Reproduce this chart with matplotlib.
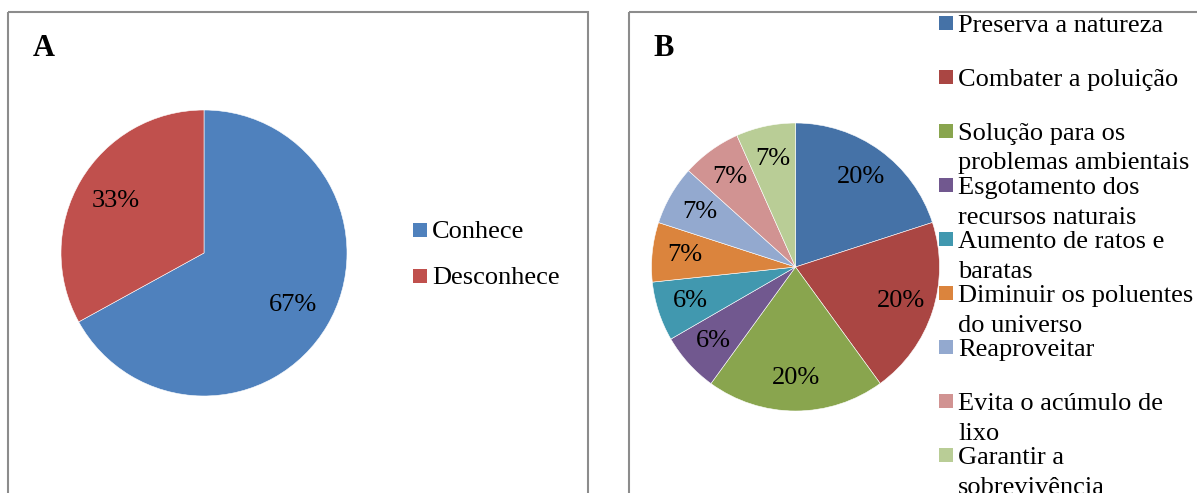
import matplotlib
matplotlib.use("Agg")
import matplotlib.pyplot as plt
from matplotlib.patches import Rectangle

plt.rcParams['font.family'] = ['Liberation Serif', 'DejaVu Serif']

# ---- data ----
cats_a = ["Conhece", "Desconhece"]
vals_a = [67, 33]
labels_a = ["67%", "33%"]

cats_b = ["Preserva a natureza", "Combater a poluição",
          "Solução para os\nproblemas ambientais", "Esgotamento dos\nrecursos naturais",
          "Aumento de ratos e\nbaratas", "Diminuir os poluentes\ndo universo",
          "Reaproveitar", "Evita o acúmulo de\nlixo", "Garantir a\nsobrevivência"]
vals_b = [20, 20, 20, 6.67, 6.67, 6.67, 6.67, 6.67, 6.67]
labels_b = ["20%", "20%", "20%", "6%", "6%", "7%", "7%", "7%", "7%"]

colors_a = ["#4F81BD", "#C0504D"]
colors_b = ["#4572A7", "#AA4643", "#89A54E", "#71588F", "#4198AF",
            "#DB843D", "#93A9CF", "#D19392", "#B9CD96"]

W, H = 1197, 493
fig = plt.figure(figsize=(W / 100, H / 100), dpi=100)

# overlay in pixel coordinates
ov = fig.add_axes([0, 0, 1, 1])
ov.set_xlim(0, W)
ov.set_ylim(H, 0)
ov.axis('off')

border = "#8c8c8c"
ov.add_patch(Rectangle((8, 11.5), 580, 500, fill=False, edgecolor=border, lw=1.5, clip_on=True))
ov.add_patch(Rectangle((628.5, 11.5), 600, 500, fill=False, edgecolor=border, lw=1.5, clip_on=True))

ov.text(33, 56, "A", fontsize=22, fontweight='bold', va='baseline', ha='left')
ov.text(653, 56, "B", fontsize=22, fontweight='bold', va='baseline', ha='left')

FS = 19


def pie_axes(cx, cy, r):
    return fig.add_axes([(cx - r) / W, (H - cy - r) / H, 2 * r / W, 2 * r / H])


axA = pie_axes(204, 253, 143)
wedges, texts, autotexts = axA.pie(vals_a, colors=colors_a, startangle=90, counterclock=False,
                                   autopct='%1.0f%%', pctdistance=0.72, radius=1,
                                   wedgeprops=dict(edgecolor='white', linewidth=0.4))
for t, lab in zip(autotexts, labels_a):
    t.set_text(lab)
    t.set_fontsize(FS)
axA.set_xlim(-1, 1)
axA.set_ylim(-1, 1)
axA.set_aspect('equal')
axA.axis('off')

axB = pie_axes(795.5, 267, 144)
wedges, texts, autotexts = axB.pie(vals_b, colors=colors_b, startangle=90, counterclock=False,
                                   autopct='%1.0f%%', pctdistance=0.77, radius=1,
                                   wedgeprops=dict(edgecolor='white', linewidth=0.4))
for t, lab in zip(autotexts, labels_b):
    t.set_text(lab)
    t.set_fontsize(FS)
axB.set_xlim(-1, 1)
axB.set_ylim(-1, 1)
axB.set_aspect('equal')
axB.axis('off')

# legend A
for i, (c, col) in enumerate(zip(cats_a, colors_a)):
    yc = 230 + i * 45.5
    ov.add_patch(Rectangle((413, yc - 7), 14, 14, facecolor=col, edgecolor='none'))
    ov.text(432, yc + 8, c, fontsize=FS, va='baseline', ha='left')

# legend B
for i, (c, col) in enumerate(zip(cats_b, colors_b)):
    yc = 23 + i * 54
    ov.add_patch(Rectangle((939, yc - 7), 14, 14, facecolor=col, edgecolor='none'))
    for j, line in enumerate(c.split("\n")):
        ov.text(958, yc + 9 + j * 29.5, line, fontsize=FS, va='baseline', ha='left')

fig.savefig("out.png", dpi=100)
